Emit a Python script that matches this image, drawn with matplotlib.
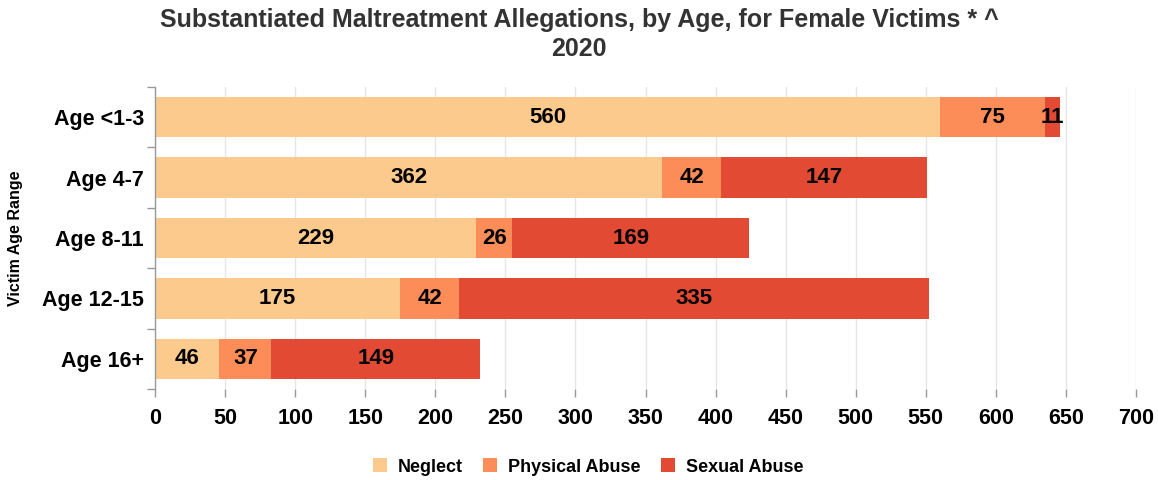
import matplotlib
matplotlib.use("Agg")
import matplotlib.pyplot as plt
import numpy as np

plt.rcParams['font.family'] = ['Liberation Sans', 'DejaVu Sans']

categories = ["Age <1-3", "Age 4-7", "Age 8-11", "Age 12-15", "Age 16+"]
neglect = [560, 362, 229, 175, 46]
physical = [75, 42, 26, 42, 37]
sexual = [11, 147, 169, 335, 149]
series = [("Neglect", neglect, "#fdca8d"),
          ("Physical Abuse", physical, "#fc8d59"),
          ("Sexual Abuse", sexual, "#e34a33")]
xticks = list(range(0, 701, 50))

fig = plt.figure(figsize=(11.58, 4.8), dpi=100)
ax = fig.add_axes([155/1158, 1-389/480, (1136-155)/1158, (389-87)/480])

y = np.arange(len(categories))
left = np.zeros(len(categories))
handles = []
for name, vals, color in series:
    vals = np.array(vals, dtype=float)
    b = ax.barh(y, vals, left=left, height=0.67, color=color, label=name, zorder=2)
    handles.append(b)
    for yi, l, v in zip(y, left, vals):
        ax.text(l + v/2, yi, f"{int(v)}", ha="center", va="center",
                fontsize=16, fontweight="bold", color="black", zorder=3)
    left += vals

ax.set_ylim(len(categories) - 0.5, -0.5)
ax.set_xlim(0, 700)
ax.set_xticks(xticks)
ax.set_xticklabels([str(t) for t in xticks], fontsize=15.5, fontweight="bold")
ax.set_yticks(y)
ax.set_yticklabels(categories, fontsize=15.5, fontweight="bold")
ax.set_yticks(np.arange(len(categories) + 1) - 0.5, minor=True)
ax.tick_params(axis="y", which="major", length=0, pad=8)
ax.tick_params(axis="y", which="minor", length=6, color="#999999", width=1)
ax.tick_params(axis="x", length=6, color="#999999", width=1, pad=8)
ax.grid(axis="x", color="#e6e6e6", linewidth=1, zorder=0)
for s in ["top", "right", "bottom"]:
    ax.spines[s].set_visible(False)
ax.spines["left"].set_color("#999999")
ax.spines["left"].set_linewidth(1)

ax.set_ylabel("Victim Age Range", fontsize=11.5, fontweight="bold", labelpad=14)

fig.text(0.5, 1-20/480, "Substantiated Maltreatment Allegations, by Age, for Female Victims * ^",
         ha="center", va="center", fontsize=18, fontweight="bold", color="#333333")
fig.text(0.5, 1-49/480, "2020", ha="center", va="center",
         fontsize=18, fontweight="bold", color="#333333")

fig.legend(handles=handles, loc="center", bbox_to_anchor=(588/1158, 1-467/480), ncol=3,
           frameon=False, prop={"size": 13, "weight": "bold"},
           handlelength=0.8, handleheight=0.8, handletextpad=0.6, columnspacing=1.1)

fig.savefig("out.png", dpi=100)
